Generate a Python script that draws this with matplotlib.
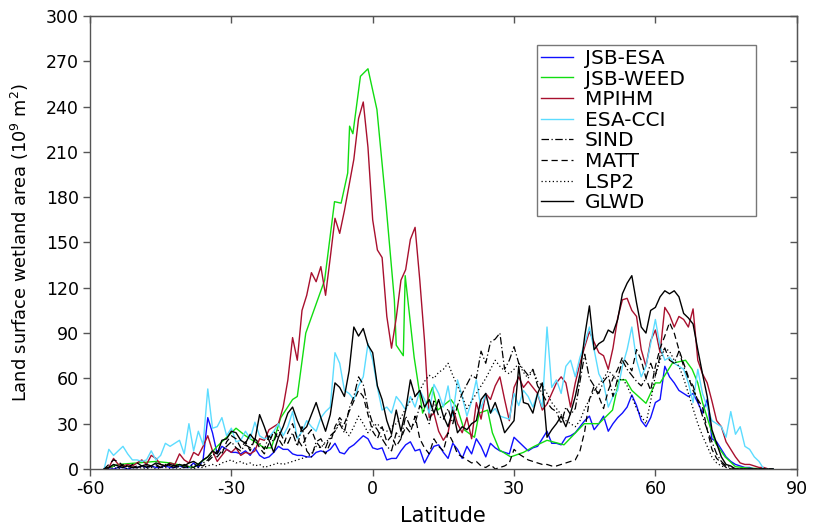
"""
Zonal profile of land surface wetland area by latitude.

Compares the JSB / MPIHM model runs with the ESA-CCI, SIND, MATT,
LSP2 and GLWD wetland products.
"""

import matplotlib
matplotlib.use("Agg")
import matplotlib.pyplot as plt

plt.rcParams["font.family"] = ["DejaVu Sans"]
plt.rcParams["axes.unicode_minus"] = False

# ============================================================
# DATA (10^9 m^2 per 1 degree latitude band)
# ============================================================
LAT = list(range(-57, 86))

MPIHM = [
    0, 1, 7, 3, 2, 3, 2, 4, 6, 3,                    # -57 .. -48
    9, 7, 3, 2, 4, 3, 10, 6, 4, 11,                  # -47 .. -38
    9, 15, 22, 12, 5, 9, 13, 11, 14, 9,              # -37 .. -28
    11, 10, 12, 20, 19, 26, 28, 30, 41, 59,          # -27 .. -18
    87, 72, 105, 115, 130, 124, 134, 115, 140, 166,  # -17 .. -8
    156, 171, 188, 205, 232, 243, 213, 165, 145, 140,  # -7 .. 2
    101, 80, 100, 125, 132, 152, 160, 125, 85, 34,   # 3 .. 12
    37, 25, 19, 24, 41, 30, 24, 34, 20, 44,          # 13 .. 22
    33, 50, 46, 55, 61, 46, 32, 54, 61, 54,          # 23 .. 32
    58, 54, 50, 39, 43, 50, 57, 61, 57, 41,          # 33 .. 42
    57, 70, 81, 91, 84, 77, 75, 66, 80, 100,         # 43 .. 52
    112, 113, 105, 101, 79, 68, 85, 92, 77, 107,     # 53 .. 62
    102, 94, 101, 99, 94, 106, 72, 63, 57, 45,       # 63 .. 72
    32, 28, 18, 13, 8, 4, 3, 3, 2, 1,                # 73 .. 82
    1, 0, 0,                                         # 83 .. 85
]

JSB_ESA = [
    0, 0, 0, 1, 1, 0, 1, 1, 2, 1,
    2, 1, 1, 2, 1, 1, 2, 1, 1, 4,
    1, 6, 34, 24, 10, 15, 13, 11, 11, 10,
    12, 9, 14, 9, 7, 8, 11, 15, 13, 13,
    10, 9, 9, 8, 8, 11, 12, 11, 13, 17,
    11, 10, 14, 16, 19, 22, 20, 14, 13, 14,
    6, 7, 7, 12, 16, 18, 12, 13, 4, 10,
    15, 16, 11, 7, 17, 13, 7, 15, 10, 20,
    15, 8, 17, 14, 12, 11, 10, 21, 18, 15,
    12, 14, 15, 20, 25, 17, 17, 16, 21, 22,
    24, 28, 32, 35, 26, 30, 35, 25, 30, 34,
    37, 41, 49, 42, 32, 28, 34, 44, 46, 68,
    61, 57, 52, 50, 48, 50, 44, 37, 46, 20,
    18, 13, 8, 5, 3, 2, 1, 1, 0, 0,
    0, 0, 0,
]

ESA_CCI = [
    0, 13, 9, 12, 15, 10, 6, 6, 5, 6,
    12, 6, 9, 17, 15, 17, 19, 10, 30, 12,
    25, 16, 53, 27, 28, 34, 22, 27, 18, 19,
    25, 20, 31, 22, 20, 21, 25, 30, 22, 28,
    38, 20, 25, 32, 28, 25, 34, 38, 41, 77,
    70, 52, 50, 46, 55, 61, 83, 72, 54, 39,
    41, 37, 48, 44, 39, 48, 41, 52, 46, 37,
    56, 50, 41, 55, 35, 59, 48, 35, 45, 59,
    40, 50, 37, 40, 35, 34, 33, 50, 42, 52,
    48, 41, 50, 41, 94, 54, 59, 50, 68, 72,
    61, 74, 83, 94, 79, 63, 57, 41, 48, 52,
    68, 79, 94, 72, 61, 68, 83, 99, 81, 72,
    74, 70, 68, 66, 57, 44, 66, 50, 41, 32,
    30, 28, 21, 38, 23, 28, 15, 13, 8, 5,
    0, 0, 0,
]

SIND = [
    0, 1, 2, 1, 3, 2, 1, 2, 1, 2,
    1, 2, 1, 3, 2, 1, 2, 1, 2, 3,
    2, 4, 6, 10, 8, 12, 15, 18, 14, 12,
    16, 14, 20, 17, 13, 22, 18, 26, 20, 17,
    24, 15, 28, 12, 8, 18, 20, 14, 22, 25,
    30, 24, 40, 48, 61, 56, 40, 30, 26, 20,
    15, 12, 24, 20, 35, 28, 30, 42, 38, 30,
    45, 35, 33, 40, 30, 42, 50, 56, 62, 60,
    78, 70, 84, 86, 90, 66, 72, 81, 70, 66,
    62, 66, 55, 50, 44, 40, 38, 30, 41, 36,
    40, 58, 76, 60, 55, 50, 58, 62, 48, 60,
    72, 66, 62, 58, 55, 60, 70, 62, 75, 80,
    72, 70, 78, 68, 60, 55, 45, 35, 26, 18,
    10, 5, 2, 1, 0, 0, 0, 0, 0, 0,
    0, 0, 0,
]

MATT = [
    0, 3, 6, 5, 2, 1, 3, 4, 2, 1,
    2, 3, 1, 2, 4, 2, 1, 3, 2, 1,
    3, 2, 5, 8, 12, 10, 18, 22, 20, 14,
    18, 12, 20, 14, 10, 17, 25, 20, 15, 24,
    30, 20, 15, 22, 26, 18, 14, 10, 17, 28,
    34, 30, 38, 45, 52, 48, 36, 25, 20, 28,
    18, 22, 15, 20, 28, 24, 35, 20, 14, 10,
    20, 15, 12, 24, 18, 10, 8, 6, 4, 5,
    2, 1, 3, 0, 1, 2, 4, 13, 10, 8,
    6, 5, 4, 3, 3, 2, 2, 3, 4, 5,
    6, 12, 25, 46, 55, 48, 40, 52, 60, 66,
    74, 70, 65, 79, 72, 60, 52, 68, 80, 88,
    97, 90, 79, 70, 61, 52, 46, 41, 26, 13,
    7, 4, 1, 0, 0, 0, 0, 0, 0, 0,
    0, 0, 0,
]

LSP2 = [
    0, 0, 1, 0, 1, 0, 1, 0, 1, 0,
    1, 0, 1, 1, 0, 1, 0, 1, 1, 0,
    1, 1, 2, 3, 2, 4, 5, 6, 4, 5,
    3, 4, 2, 3, 1, 2, 3, 4, 3, 4,
    5, 6, 7, 8, 10, 15, 14, 18, 20, 25,
    32, 26, 22, 28, 35, 30, 24, 28, 30, 26,
    25, 28, 30, 34, 40, 45, 48, 52, 58, 62,
    60, 64, 66, 70, 62, 55, 48, 40, 45, 50,
    55, 60, 66, 72, 68, 65, 63, 66, 70, 64,
    60, 66, 58, 55, 50, 44, 40, 36, 32, 30,
    28, 32, 40, 46, 52, 56, 60, 65, 62, 58,
    60, 55, 48, 40, 35, 30, 45, 62, 72, 80,
    78, 72, 68, 60, 50, 40, 30, 22, 15, 8,
    4, 2, 1, 0, 0, 0, 0, 0, 0, 0,
    0, 0, 0,
]

GLWD = [
    0, 1, 3, 2, 1, 2, 1, 1, 2, 3,
    2, 4, 3, 2, 3, 2, 3, 2, 4, 5,
    3, 6, 8, 12, 10, 19, 20, 25, 24, 19,
    17, 23, 19, 36, 28, 19, 11, 21, 28, 37,
    41, 32, 25, 28, 36, 44, 34, 25, 36, 57,
    54, 48, 65, 94, 88, 93, 82, 77, 55, 46,
    32, 23, 39, 25, 39, 59, 48, 52, 41, 46,
    37, 46, 35, 28, 39, 24, 28, 26, 30, 32,
    46, 50, 37, 44, 35, 24, 28, 32, 68, 44,
    43, 37, 50, 57, 21, 26, 30, 35, 28, 37,
    48, 63, 88, 108, 79, 83, 85, 92, 90, 99,
    116, 123, 128, 110, 94, 90, 105, 107, 114, 118,
    116, 118, 114, 103, 100, 96, 79, 63, 48, 26,
    17, 8, 3, 2, 0, 0, 0, 0, 0, 0,
    0, 0, 0,
]

# JSB-WEED is on a coarser, irregular set of points
WEED_LAT = [-57, -54, -50, -46, -43, -40, -38, -35, -33, -31,
            -29, -27, -25, -23, -21.5, -19.5, -17, -16, -14.2, -10.2,
            -8.1, -6.7, -5.3, -4.9, -4.2, -2.6, -1, 0.9, 2.8, 4.6,
            5.0, 6.5, 6.9, 8.8, 10.6, 12.7, 13.8, 16.6, 18, 19.4,
            21.6, 22.6, 24.4, 25.4, 26.9, 29.3, 32, 34.3, 37, 40.6,
            44.9, 48, 50.9, 52.3, 53.7, 55, 58, 60, 61, 63.6,
            66.4, 67.8, 69, 70, 71.4, 72.8, 74.8, 77, 80, 85]
JSB_WEED = [0, 3, 4, 5, 4, 2, 1, 8, 15, 21,
            27, 22, 18, 14, 14, 34, 46, 48, 90, 125,
            177, 176, 196, 227, 222, 260, 265, 238, 176, 112,
            82, 75, 128, 74, 37, 54, 39, 46, 40, 26,
            21, 37, 39, 24, 12.6, 8, 11, 15, 19, 16,
            30, 30, 39, 59, 59, 52, 43.5, 57, 57, 70,
            72, 66, 57, 44, 30, 17, 8, 1.5, 0.5, 0]

X_TICKS = [-60, -30, 0, 30, 60, 90]
Y_TICKS = list(range(0, 301, 30))


def main():
    fig = plt.figure(figsize=(8.18, 5.25), dpi=100)
    ax = fig.add_axes([0.110, 0.1067, 0.864, 0.863])

    lw = 1.0
    ax.plot(LAT, JSB_ESA, color="#1010FF", lw=lw, label="JSB-ESA")
    ax.plot(WEED_LAT, JSB_WEED, color="#11DD11", lw=lw, label="JSB-WEED")
    ax.plot(LAT, MPIHM, color="#A8102E", lw=lw, label="MPIHM")
    ax.plot(LAT, ESA_CCI, color="#5CDCFF", lw=lw, label="ESA-CCI")
    ax.plot(LAT, SIND, color="black", lw=0.9, linestyle=(0, (6, 2, 1, 2)), label="SIND")
    ax.plot(LAT, MATT, color="black", lw=0.9, linestyle=(0, (5, 3)), label="MATT")
    ax.plot(LAT, LSP2, color="black", lw=0.9, linestyle=(0, (1, 2)), label="LSP2")
    ax.plot(LAT, GLWD, color="black", lw=lw, label="GLWD")

    ax.set_xlim(-60, 90)
    ax.set_ylim(0, 300)
    ax.set_xticks(X_TICKS)
    ax.set_yticks(Y_TICKS)
    ax.tick_params(direction="out", length=5, width=1, color="#555555",
                   labelsize=12.5, pad=3)
    for sp in ax.spines.values():
        sp.set_color("#555555")
        sp.set_linewidth(1)

    # inward ticks on top and right
    top = ax.secondary_xaxis("top")
    top.set_xticks(X_TICKS)
    top.tick_params(direction="in", length=5, width=1, color="#555555", labeltop=False)
    right = ax.secondary_yaxis("right")
    right.set_yticks(Y_TICKS)
    right.tick_params(direction="in", length=5, width=1, color="#555555", labelright=False)

    ax.set_xlabel("Latitude", fontsize=15, labelpad=6)
    ax.set_ylabel(r"Land surface wetland area (10$^{9}$ m$^{2}$)", fontsize=12.8, labelpad=11)

    # legend box is wider than its entries, so stretch it over a fixed bbox
    leg = ax.legend(loc="upper left", bbox_to_anchor=(0.632, 0.5, 0.311, 0.436),
                    mode="expand", borderaxespad=0,
                    fontsize=14.5, frameon=True, fancybox=False, handlelength=1.6,
                    handletextpad=0.6, labelspacing=0.08, borderpad=0.2)
    leg.get_frame().set_edgecolor("#555555")
    leg.get_frame().set_linewidth(1)

    fig.savefig("out.png", dpi=100)
    plt.close(fig)


if __name__ == "__main__":
    main()
